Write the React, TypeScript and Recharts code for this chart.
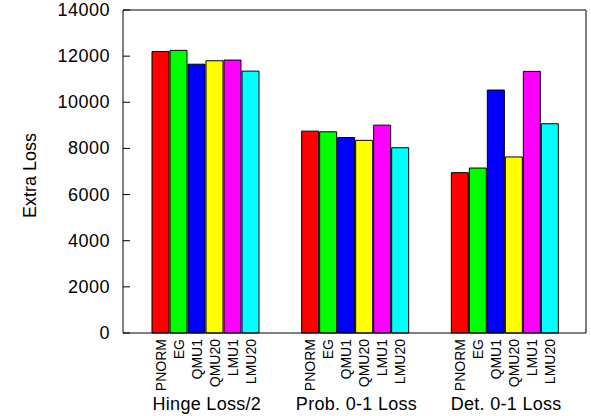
import { BarChart, Bar, XAxis, YAxis, LabelList } from 'recharts';

const groups = ['Hinge Loss/2', 'Prob. 0-1 Loss', 'Det. 0-1 Loss'];
const algorithms = ['PNORM', 'EG', 'QMU1', 'QMU20', 'LMU1', 'LMU20'];
const colors = ['#ff0000', '#00ff00', '#0000ff', '#ffff00', '#ff00ff', '#00ffff'];

const pnorm = [12200, 8750, 6950];
const eg = [12250, 8720, 7150];
const qmu1 = [11650, 8470, 10530];
const qmu20 = [11800, 8350, 7630];
const lmu1 = [11830, 9010, 11340];
const lmu20 = [11350, 8030, 9070];
const series = [pnorm, eg, qmu1, qmu20, lmu1, lmu20];

const yTicks = [0, 2000, 4000, 6000, 8000, 10000, 12000, 14000];

const data = groups.map((g, i) => {
  const row: Record<string, string | number> = { group: g };
  algorithms.forEach((a, k) => {
    row[a] = series[k][i];
  });
  return row;
});

const font = '"Liberation Sans", Arial, Helvetica, sans-serif';

function LeftTick(props: any) {
  const { x, y, payload } = props;
  return (
    <g>
      <line x1={x} x2={x + 7} y1={y} y2={y} stroke="#000" />
      <text
        x={x - 13}
        y={y}
        textAnchor="end"
        dominantBaseline="central"
        fontFamily={font}
        fontSize={18}
        letterSpacing={0.5}
        fill="#000"
      >
        {payload.value}
      </text>
    </g>
  );
}

function RightTick(props: any) {
  const { x, y } = props;
  return <line x1={x} x2={x - 7} y1={y} y2={y} stroke="#000" />;
}

function GroupTick(props: any) {
  const { x, y, payload } = props;
  return (
    <text
      x={x}
      y={y + 71}
      textAnchor="middle"
      dominantBaseline="central"
      fontFamily={font}
      fontSize={18}
      letterSpacing={0.3}
      fill="#000"
    >
      {payload.value}
    </text>
  );
}

function nameLabel(name: string) {
  return (props: any) => {
    const { x, y, width, height } = props;
    const cx = Number(x) + Number(width) / 2;
    const bottom = Number(y) + Number(height) + 6;
    return (
      <text
        transform={`translate(${cx},${bottom}) rotate(-90)`}
        textAnchor="end"
        dominantBaseline="central"
        fontFamily={font}
        fontSize={14}
        fill="#000"
      >
        {name}
      </text>
    );
  };
}

export default function App() {
  return (
    <div style={{ position: 'absolute', left: 0, top: 0, background: '#fff' }}>
      <BarChart
        width={591}
        height={416}
        data={data}
        margin={{ top: 9, right: 4, bottom: 0, left: 63 }}
        barGap={1}
        barCategoryGap={20}
      >
        <XAxis
          dataKey="group"
          xAxisId="bottom"
          height={83}
          padding={{ left: 9, right: 5 }}
          axisLine={{ stroke: '#000' }}
          tickLine={false}
          tickSize={0}
          tickMargin={0}
          tick={<GroupTick />}
          interval={0}
        />
        <XAxis
          dataKey="group"
          xAxisId="top"
          orientation="top"
          height={1}
          axisLine={{ stroke: '#000' }}
          tick={false}
          tickLine={false}
        />
        <YAxis
          yAxisId="left"
          width={60}
          domain={[0, 14000]}
          ticks={yTicks}
          axisLine={{ stroke: '#000' }}
          tickLine={false}
          tickSize={0}
          tickMargin={0}
          tick={<LeftTick />}
          interval={0}
          label={{
            value: 'Extra Loss',
            angle: -90,
            position: 'insideLeft',
            offset: -33,
            dy: 4,
            style: { fontFamily: font, fontSize: 18, fill: '#000', textAnchor: 'middle' },
          }}
        />
        <YAxis
          yAxisId="right"
          orientation="right"
          width={1}
          domain={[0, 14000]}
          ticks={yTicks}
          axisLine={{ stroke: '#000' }}
          tickLine={false}
          tickSize={0}
          tickMargin={0}
          tick={<RightTick />}
          interval={0}
        />
        {algorithms.map((a, k) => (
          <Bar
            key={a}
            dataKey={a}
            xAxisId="bottom"
            yAxisId="left"
            fill={colors[k]}
            stroke="#000"
            strokeWidth={1}
            isAnimationActive={false}
          >
            <LabelList dataKey={a} content={nameLabel(a)} />
          </Bar>
        ))}
      </BarChart>
    </div>
  );
}
